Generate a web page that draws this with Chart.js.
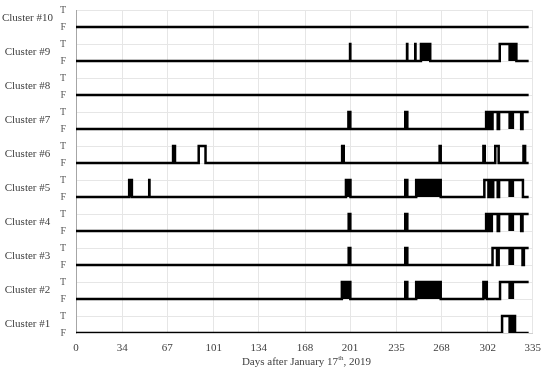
<!DOCTYPE html>
<html>
<head>
<meta charset="utf-8">
<script src="https://cdn.jsdelivr.net/npm/chart.js@4.4.1/dist/chart.umd.min.js"></script>
<style>
  body { margin: 0; background: #fff; }
  #wrap { position: relative; width: 550px; height: 372px; }
  #xtitle {
    position: absolute; left: 76px; width: 461px; top: 354px;
    text-align: center; font: 11px "Liberation Serif", serif; color: #404040;
  }
  #xtitle sup { font-size: 7px; }
</style>
</head>
<body>
<div id="wrap">
  <canvas id="chart" width="550" height="372"></canvas>
  <div id="xtitle">Days after January 17<sup>th</sup>, 2019</div>
</div>
<script>
// ===== DATA =====
const xTicks = [0, 34, 67, 101, 134, 168, 201, 235, 268, 302, 335];
const clusterNames = ["Cluster #1", "Cluster #2", "Cluster #3", "Cluster #4", "Cluster #5",
                      "Cluster #6", "Cluster #7", "Cluster #8", "Cluster #9", "Cluster #10"];
const lastDay = 332;

// periods where the cluster is T (day from, day to)
const cluster1 = [[312.5, 322]];
const cluster2 = [[195, 201.2], [241.5, 243], [249.5, 267.5], [298.8, 301.3], [311, 332]];
const cluster3 = [[200, 201.2], [241.5, 243], [305.5, 308.8], [310, 327.5], [328.5, 332]];
const cluster4 = [[200, 201.2], [241.5, 243], [300.8, 302], [303, 304], [305, 309.3], [310.3, 326.5], [327.5, 332]];
const cluster5 = [[39, 41], [53.7, 53.9], [198, 201.3], [241.5, 243], [249.5, 267.5],
                  [299.5, 302.5], [304, 305], [306, 309.3], [310.3, 327.8]];
const cluster6 = [[71.2, 72.6], [90, 95], [195.2, 196.4], [266.7, 267.5], [298.8, 299.8],
                  [307.5, 310], [328.2, 329.4]];
const cluster7 = [[199.8, 201.2], [241.5, 243], [300.8, 302.5], [303.5, 304.5], [305.5, 309.3], [310.3, 326.5], [327.5, 332]];
const cluster8 = [];
const cluster9 = [[201, 201.2], [242.8, 243], [248.8, 249], [253, 259.8], [310.8, 323]];
const cluster10 = [];

// dense switching, drawn as filled blocks
const cluster1Blocks = [[317, 322]];
const cluster2Blocks = [[195, 201.2], [249.5, 267.5], [298.8, 301.3], [317, 321.5]];
const cluster3Blocks = [[317, 321.5]];
const cluster4Blocks = [[317, 321.5]];
const cluster5Blocks = [[39, 41], [198, 201.3], [249.5, 267.5], [317, 321.5]];
const cluster6Blocks = [];
const cluster7Blocks = [[317, 321.5]];
const cluster8Blocks = [];
const cluster9Blocks = [[253, 259.8], [317, 323]];
const cluster10Blocks = [];

const onPeriods = [cluster1, cluster2, cluster3, cluster4, cluster5,
                   cluster6, cluster7, cluster8, cluster9, cluster10];
const blockPeriods = [cluster1Blocks, cluster2Blocks, cluster3Blocks, cluster4Blocks, cluster5Blocks,
                      cluster6Blocks, cluster7Blocks, cluster8Blocks, cluster9Blocks, cluster10Blocks];

// ===== BUILD DATASETS =====
const datasets = [];
onPeriods.forEach((periods, i) => {
  const base = i * 2;
  const pts = [{ x: 0, y: base }];
  periods.forEach(([s, e]) => {
    pts.push({ x: s, y: base + 1 });
    if (e >= lastDay) pts.push({ x: lastDay, y: base + 1 });
    else pts.push({ x: e, y: base });
  });
  if (pts[pts.length - 1].x < lastDay) pts.push({ x: lastDay, y: base });

  datasets.push({
    data: pts,
    stepped: true,
    borderColor: "#000",
    borderWidth: 2.5,
    borderJoinStyle: "miter",
    pointRadius: 0,
    fill: false
  });

  blockPeriods[i].forEach(([s, e]) => {
    datasets.push({
      data: [{ x: s, y: base + 1 }, { x: e, y: base + 1 }],
      borderColor: "#000",
      borderWidth: 1,
      backgroundColor: "#000",
      pointRadius: 0,
      fill: { target: { value: base } }
    });
  });
});

// ===== CHART =====
const gridColor = "#e6e6e6";
const labelColor = "#404040";

new Chart(document.getElementById("chart"), {
  type: "line",
  data: { datasets },
  options: {
    responsive: false,
    animation: false,
    layout: { padding: { top: 10, right: 13, bottom: 15, left: 0 } },
    plugins: { legend: { display: false }, tooltip: { enabled: false } },
    scales: {
      x: {
        type: "linear",
        min: 0,
        max: 335,
        afterBuildTicks: s => { s.ticks = xTicks.map(v => ({ value: v })); },
        afterFit: s => { s.height = 24; },
        ticks: {
          autoSkip: false,
          maxRotation: 0,
          padding: 9,
          color: labelColor,
          font: { family: "Liberation Serif", size: 11 }
        },
        grid: { color: gridColor, drawTicks: false },
        border: { color: "#d0d0d0" }
      },
      y: {
        type: "linear",
        position: "left",
        weight: 0,
        min: 0,
        max: 19,
        afterFit: s => { s.width = 22; s.paddingTop = 0; s.paddingBottom = 0; },
        ticks: {
          stepSize: 1,
          autoSkip: false,
          padding: 10,
          color: "#595959",
          font: { family: "Liberation Serif", size: 10 },
          callback: v => (v % 2 ? "T" : "F")
        },
        grid: { color: gridColor, drawTicks: false },
        border: { color: "#a6a6a6" }
      },
      yc: {
        type: "linear",
        position: "left",
        weight: 1,
        min: 0,
        max: 19,
        afterBuildTicks: s => { s.ticks = clusterNames.map((n, i) => ({ value: i * 2 + 0.5 })); },
        afterFit: s => { s.width = 54; s.paddingTop = 0; s.paddingBottom = 0; },
        ticks: {
          autoSkip: false,
          crossAlign: "center",
          padding: 1,
          color: labelColor,
          font: { family: "Liberation Serif", size: 11 },
          callback: (v, i) => clusterNames[i]
        },
        grid: { display: false, drawTicks: false },
        border: { display: false }
      }
    }
  }
});
</script>
</body>
</html>
